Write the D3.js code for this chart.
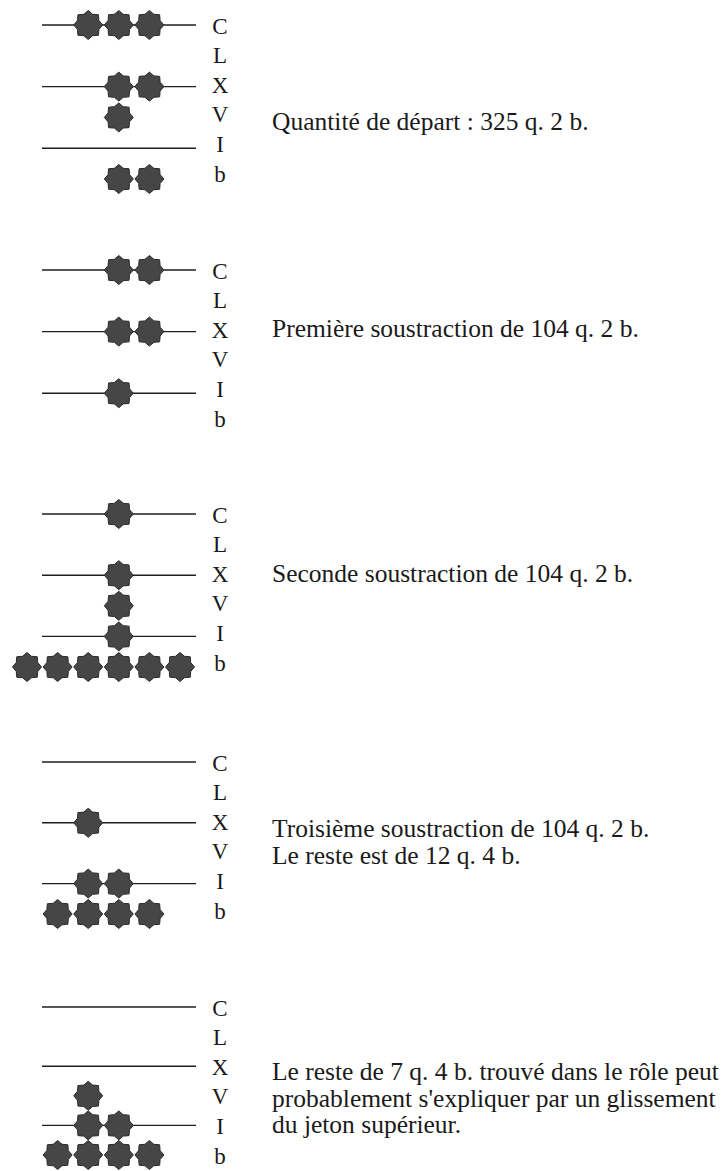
<!DOCTYPE html>
<html>
<head>
<meta charset="utf-8">
<script src="https://cdn.jsdelivr.net/npm/d3@7"></script>
<style>
  html, body { margin: 0; padding: 0; background: #fff; }
  svg { display: block; }
</style>
</head>
<body>
<svg id="chart" width="728" height="1171"></svg>
<script>
// ---- DATA ----
const rowLabels = ["C", "L", "X", "V", "I", "b"];
const lineRows = ["C", "X", "I"];

// tokens: row label + column index on the counting board
const tokens1 = [
  {row: "C", col: 2}, {row: "C", col: 3}, {row: "C", col: 4},
  {row: "X", col: 3}, {row: "X", col: 4},
  {row: "V", col: 3},
  {row: "b", col: 3}, {row: "b", col: 4}
];
const tokens2 = [
  {row: "C", col: 3}, {row: "C", col: 4},
  {row: "X", col: 3}, {row: "X", col: 4},
  {row: "I", col: 3}
];
const tokens3 = [
  {row: "C", col: 3},
  {row: "X", col: 3},
  {row: "V", col: 3},
  {row: "I", col: 3},
  {row: "b", col: 0}, {row: "b", col: 1}, {row: "b", col: 2},
  {row: "b", col: 3}, {row: "b", col: 4}, {row: "b", col: 5}
];
const tokens4 = [
  {row: "X", col: 2},
  {row: "I", col: 2}, {row: "I", col: 3},
  {row: "b", col: 1}, {row: "b", col: 2}, {row: "b", col: 3}, {row: "b", col: 4}
];
const tokens5 = [
  {row: "V", col: 2},
  {row: "I", col: 2}, {row: "I", col: 3},
  {row: "b", col: 1}, {row: "b", col: 2}, {row: "b", col: 3}, {row: "b", col: 4}
];

const captions1 = ["Quantité de départ : 325 q. 2 b."];
const captions2 = ["Première soustraction de 104 q. 2 b."];
const captions3 = ["Seconde soustraction de 104 q. 2 b."];
const captions4 = ["Troisième soustraction de 104 q. 2 b.", "Le reste est de 12 q. 4 b."];
const captions5 = ["Le reste de 7 q. 4 b. trouvé dans le rôle peut",
                   "probablement s'expliquer par un glissement",
                   "du jeton supérieur."];

// ---- LAYOUT ----
const panels = [
  {tokens: tokens1, captions: captions1, top: 25,   bottom: 179,  capBase: 130},
  {tokens: tokens2, captions: captions2, top: 270,  bottom: 424,  capBase: 337},
  {tokens: tokens3, captions: captions3, top: 514,  bottom: 667,  capBase: 582},
  {tokens: tokens4, captions: captions4, top: 762,  bottom: 914,  capBase: 837},
  {tokens: tokens5, captions: captions5, top: 1007, bottom: 1155, capBase: 1080}
];

const FONT = "Liberation Serif";
const svg = d3.select("#chart");
const x = d3.scaleLinear().domain([0, 5]).range([27, 180]);
const lineX = [42, 196];
const letterX = 220;
const captionX = 272;
const captionLH = 26.5;

// 8-point star token
const R = 14.5, r = 11.6;
const starPts = d3.range(16).map(i => [i * Math.PI / 8, i % 2 === 0 ? R : r]);
const starPath = d3.lineRadial().curve(d3.curveLinearClosed)(starPts);

panels.forEach(p => {
  const y = d3.scalePoint().domain(rowLabels).range([p.top, p.bottom]);
  const yLetter = d3.scalePoint().domain(rowLabels).range([p.top + 1, p.top + 149]);
  const g = svg.append("g");

  g.selectAll("line.rod").data(lineRows).join("line")
    .attr("class", "rod")
    .attr("x1", lineX[0]).attr("x2", lineX[1])
    .attr("y1", d => y(d)).attr("y2", d => y(d))
    .attr("stroke", "#1e1e1e").attr("stroke-width", 1.4);

  g.selectAll("path.token").data(p.tokens).join("path")
    .attr("class", "token")
    .attr("d", starPath)
    .attr("transform", d => `translate(${x(d.col)},${y(d.row)})`)
    .attr("fill", "#464646")
    .attr("stroke", "#2a2a2a").attr("stroke-width", 1);

  g.selectAll("text.lab").data(rowLabels).join("text")
    .attr("class", "lab")
    .attr("x", letterX).attr("y", d => yLetter(d))
    .attr("text-anchor", "middle")
    .attr("dominant-baseline", "central")
    .style("font-family", FONT)
    .style("font-size", "23px")
    .style("fill", "#1a1a1a")
    .text(d => d);

  g.selectAll("text.cap").data(p.captions).join("text")
    .attr("class", "cap")
    .attr("x", captionX)
    .attr("y", (d, i) => p.capBase + i * captionLH)
    .style("font-family", FONT)
    .style("font-size", "25.5px")
    .style("fill", "#1a1a1a")
    .text(d => d);
});
</script>
</body>
</html>
